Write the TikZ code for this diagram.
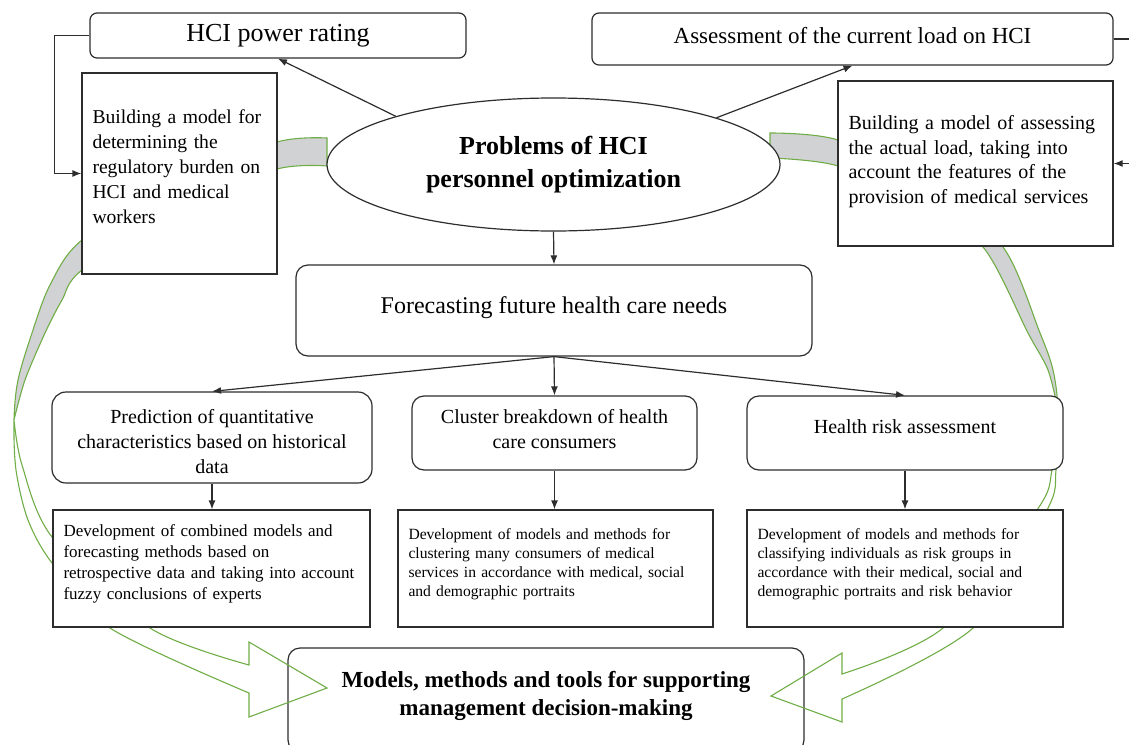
\documentclass[tikz,border=0pt]{standalone}
\usepackage{fontspec}
\setmainfont{Liberation Serif}
\usepackage{tikz}
\usetikzlibrary{shapes.geometric,arrows.meta}
\definecolor{rgreen}{RGB}{112,173,71}
\definecolor{backgray}{RGB}{208,210,212}
\definecolor{boxline}{RGB}{45,45,45}

\begin{document}
\begin{tikzpicture}[x=0.5pt,y=-0.5pt]
\tikzstyle{rbox}=[draw=boxline, line width=0.6pt, fill=white, rounded corners=6pt, align=center, font=\fontsize{10}{12.5}\selectfont]
\tikzstyle{sbox}=[draw=boxline, line width=0.6pt, fill=white, align=left, inner xsep=5.25pt]
\tikzstyle{devtext}=[font=\fontsize{7.8}{9.6}\selectfont, text width=147pt]
\tikzstyle{ribbon}=[draw=rgreen, line width=0.55pt, line join=miter]
\tikzstyle{link}=[draw=boxline, line width=0.6pt, -{Latex[length=4.5pt,width=3.5pt]}]
\useasboundingbox (0,0) rectangle (1129,744);
\clip (0,0) rectangle (1129,744);

\node[rbox, minimum width=258pt, minimum height=52pt, font=\bfseries\fontsize{11.5}{14}\selectfont] (mod) at (546,700) {Models, methods and tools for supporting\\ management decision-making\rule[-7pt]{0pt}{0pt}};

\fill[backgray] plot[smooth] coordinates {(327,138) (277,142) (180,180) (82,240) (50,285) (32,333) (18,380) (14,420)}
  -- plot[smooth] coordinates {(14,420) (25,380) (45,333) (62,300) (82,270) (180,205) (277,169) (327,166)} -- cycle;
\draw[ribbon] (327,166) -- (327,138)
  -- plot[smooth] coordinates {(327,138) (277,142) (180,180) (82,240) (50,285) (32,333) (18,380) (14,420) (16,470) (28,520) (52,563) (110,628) (249,693)}
  -- (249,717) -- (327,688) -- (249,642) -- (249,665)
  -- plot[smooth] coordinates {(249,665) (150,628) (52,537) (22,465) (14,420)}
  -- plot[smooth] coordinates {(14,420) (25,380) (45,333) (62,300) (82,270) (180,205) (277,169) (327,166)};

\fill[backgray] plot[smooth] coordinates {(770,133) (838,140) (930,185) (1003,247) (1040,333) (1053,370) (1058,410)}
  -- plot[smooth] coordinates {(1058,410) (1048,370) (1028,333) (983,247) (920,205) (838,166) (770,158)} -- cycle;
\draw[ribbon] (770,158) -- (770,133)
  -- plot[smooth] coordinates {(770,133) (838,140) (930,185) (1003,247) (1040,333) (1053,370) (1058,410) (1056,470) (1047,510) (973,628) (842,699)}
  -- (842,722) -- (771,696) -- (842,653) -- (842,674)
  -- plot[smooth] coordinates {(842,674) (943,628) (1037,510) (1052,470) (1058,410)}
  -- plot[smooth] coordinates {(1058,410) (1048,370) (1028,333) (983,247) (920,205) (838,166) (770,158)};

\node[rbox, rounded corners=3.5pt, minimum width=188pt, minimum height=22.5pt, font=\fontsize{13}{15}\selectfont] (hci) at (278,35.5) {HCI power rating};
\node[rbox, rounded corners=3.5pt, minimum width=260.5pt, minimum height=26pt, font=\fontsize{11.5}{14}\selectfont] (load) at (852.5,39) {Assessment of the current load on HCI\rule[-3.5pt]{0pt}{0pt}};
\node[sbox, minimum height=100.5pt, text width=87pt, font=\fontsize{9.8}{12.5}\selectfont] (bldL) at (179.5,173.5) {Building a model for\\ determining the\\ regulatory burden on\\ HCI and medical\\ workers\rule[-7pt]{0pt}{0pt}};
\node[sbox, minimum height=82.5pt, text width=127pt, font=\fontsize{10}{12.2}\selectfont] (bldR) at (975.5,163.5) {Building a model of assessing\\ the actual load, taking into\\ account the features of the\\ provision of medical services\rule[-4pt]{0pt}{0pt}};
\node[draw=boxline, line width=0.6pt, fill=white, ellipse, minimum width=226.5pt, minimum height=66.5pt, inner sep=0pt, align=center, font=\bfseries\fontsize{13}{16.5}\selectfont] (prob) at (553.5,164.5) {Problems of HCI\\ personnel optimization};
\node[rbox, minimum width=258pt, minimum height=45.5pt, font=\fontsize{12}{14}\selectfont] (fore) at (554,310.5) {Forecasting future health care needs\rule[-5pt]{0pt}{0pt}};
\node[rbox, rounded corners=7pt, minimum width=160pt, minimum height=45.5pt] (pred) at (212,437.5) {\rule{0pt}{11pt}Prediction of quantitative\\ characteristics based on historical\\ data};
\node[rbox, minimum width=142.5pt, minimum height=37pt] (clus) at (554.5,433) {Cluster breakdown of health\\ care consumers\rule[-4pt]{0pt}{0pt}};
\node[rbox, minimum width=158pt, minimum height=37pt] (risk) at (905,433) {Health risk assessment\rule[-6pt]{0pt}{0pt}};
\node[sbox, devtext, minimum height=58.5pt, text width=148pt, font=\fontsize{8.5}{10.5}\selectfont] (dev1) at (211.5,568.5) {Development of combined models and\\ forecasting methods based on\\ retrospective data and taking into account\\ fuzzy conclusions of experts\rule[-6pt]{0pt}{0pt}};
\node[sbox, devtext, minimum height=58.5pt] (dev2) at (555.5,568.5) {Development of models and methods for\\ clustering many consumers of medical\\ services in accordance with medical, social\\ and demographic portraits\rule[-6pt]{0pt}{0pt}};
\node[sbox, devtext, minimum height=58.5pt, text width=147.5pt] (dev3) at (905,568.5) {Development of models and methods for\\ classifying individuals as risk groups in\\ accordance with their medical, social and\\ demographic portraits and risk behavior\rule[-6pt]{0pt}{0pt}};

\draw[link] (prob.163) -- (hci.south);
\draw[link] (prob.16.5) -- (load.south);
\draw[link] (hci.west) -- ++(-35,0) |- (bldL.west);
\draw[link] (load.east) -- ++(30,0) |- (bldR.east);
\draw[link] (prob.south) -- (fore.north);
\draw[link] (fore.south) -- (pred.north);
\draw[link] (fore.south) -- (clus.north);
\draw[link] (fore.south) -- (risk.north);
\draw[link] (pred.south) -- (pred.south |- dev1.north);
\draw[link] (clus.south) -- (clus.south |- dev2.north);
\draw[link] (risk.south) -- (risk.south |- dev3.north);
\end{tikzpicture}
\end{document}
